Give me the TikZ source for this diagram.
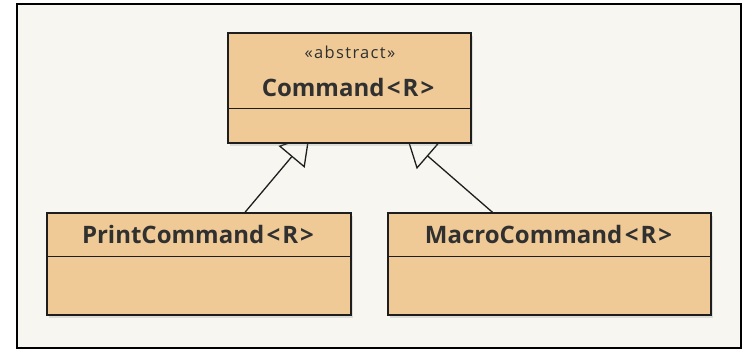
\documentclass[tikz,border=0pt]{standalone}
\usepackage{fontspec}
\setmainfont{Open Sans}
\usetikzlibrary{arrows.meta,calc,shadows}
\definecolor{panel}{HTML}{F7F6F1}
\definecolor{classfill}{HTML}{F0CA96}
\definecolor{ink}{HTML}{303030}
\definecolor{edge}{HTML}{1E1E1E}
\pgfdeclarelayer{back}
\pgfdeclarelayer{links}
\pgfsetlayers{back,links,main}
% generic type name with a little air around the angle brackets
\newcommand{\generic}[2]{#1\kern2.5pt<\kern2pt#2\kern2pt>}
\tikzset{
  classbox/.style={draw=edge, line width=1.4pt, fill=classfill, inner sep=0pt,
    drop shadow={opacity=0.22, shadow xshift=2pt, shadow yshift=-2.5pt}},
  classname/.style={font=\fontsize{24}{28}\selectfont\bfseries, text=ink, anchor=base, inner sep=0pt},
  stereotype/.style={font=\fontsize{16.5}{19}\selectfont\addfontfeature{LetterSpace=8}, text=ink, anchor=base, inner sep=0pt},
  compsep/.style={draw=edge, line width=1.3pt},
  generalization/.style={draw=edge, line width=1.3pt,
    -{Triangle[length=28pt,width=34pt,fill=panel,line width=1.3pt]}},
}
\begin{document}
\begin{tikzpicture}[x=1pt,y=-1pt]
\useasboundingbox (0,0) rectangle (748,349);

% frame
\begin{pgfonlayer}{back}
  \fill[white] (0,0) rectangle (748,349);
  \draw[line width=2pt, fill=panel] (17,4) rectangle (741,348);
\end{pgfonlayer}

% abstract base class
\node[classbox, minimum width=243pt, minimum height=110pt] (cmd) at (349.5,88) {};
\node[stereotype] (cmdst) at (350,58) {«abstract»};
\node[classname] (cmdname) at (348,96) {\generic{Command}{R}};
\draw[compsep] ($(cmd.south west)+(0,-35)$) -- ($(cmd.south east)+(0,-35)$);

% subclasses
\node[classbox, minimum width=304pt, minimum height=102pt] (print) at (199,264) {};
\node[classname] (printname) at (198,243) {\generic{PrintCommand}{R}};
\draw[compsep] ($(print.south west)+(0,-59)$) -- ($(print.south east)+(0,-59)$);

\node[classbox, minimum width=323pt, minimum height=102pt] (macro) at (549.5,264) {};
\node[classname] (macroname) at (548.5,243) {\generic{MacroCommand}{R}};
\draw[compsep] ($(macro.south west)+(0,-59)$) -- ($(macro.south east)+(0,-59)$);

% generalization links
\begin{pgfonlayer}{links}
  \draw[generalization, shorten >=62pt] ($(print.north)+(46,0)$) -- (cmd.center);
  \draw[generalization, shorten >=76pt] ($(macro.north)+(-57,0)$) -- (cmd.center);
\end{pgfonlayer}
\end{tikzpicture}
\end{document}
